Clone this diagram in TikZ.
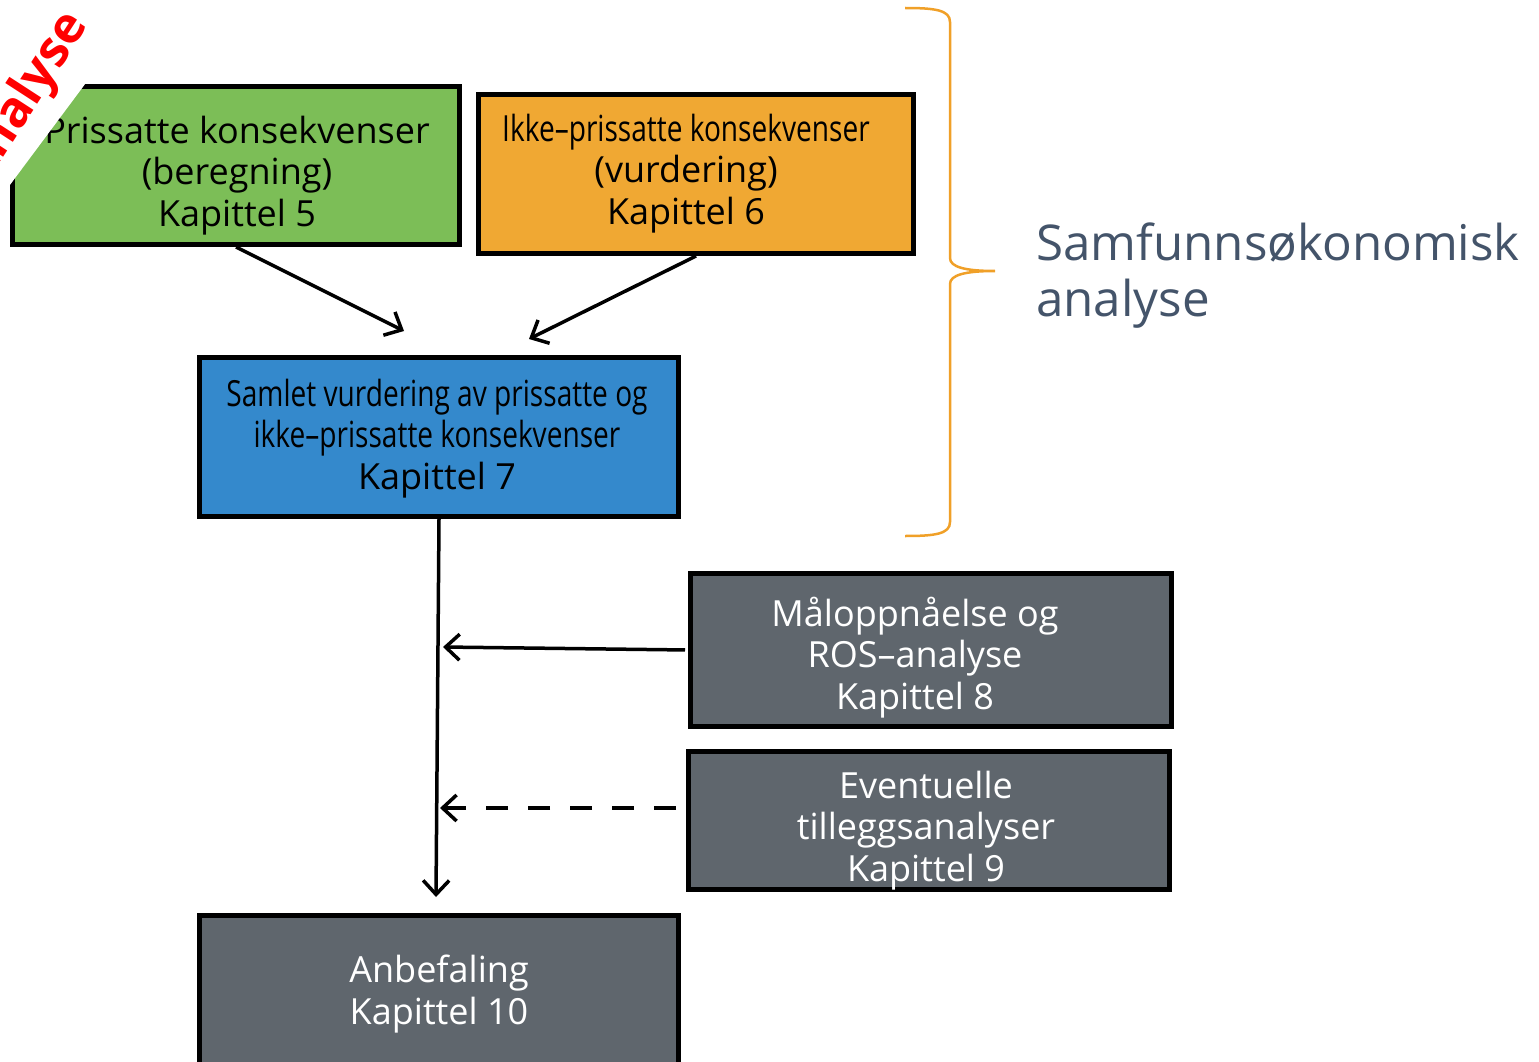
\documentclass[tikz,border=0pt]{standalone}
\usepackage{fontspec}
\setmainfont{Open Sans}
\newfontfamily\narrowfont[FakeStretch=0.78]{Open Sans}
\usetikzlibrary{arrows.meta, positioning}
\definecolor{boxgreen}{RGB}{124,190,87}
\definecolor{boxorange}{RGB}{240,168,51}
\definecolor{boxblue}{RGB}{52,137,204}
\definecolor{boxgray}{RGB}{95,102,109}
\definecolor{bracecol}{RGB}{240,160,40}
\definecolor{labelgray}{RGB}{68,84,106}

\begin{document}
\begin{tikzpicture}[x=1pt, y=-1pt,
  cbox/.style={draw=black, line width=5pt, inner sep=0pt},
  darkbox/.style={cbox, fill=boxgray},
  boxtext/.style={align=center, inner sep=0pt, font=\fontsize{36}{41.5}\selectfont},
  flow/.style={line width=3.5pt, -{Straight Barb[length=14pt, width=26pt, line width=3.5pt]}}
]
  \useasboundingbox (0,0) rectangle (1539,1062);

  \node[cbox, fill=boxgreen, minimum width=447pt, minimum height=158pt] (green) at (236,165.5) {};
  \node[cbox, fill=boxorange, minimum width=435pt, minimum height=159pt] (orange) at (696,174) {};
  \node[cbox, fill=boxblue, minimum width=479pt, minimum height=159pt] (blue) at (439,437) {};
  \node[darkbox, minimum width=481pt, minimum height=153pt] (goal) at (931,650) {};
  \node[darkbox, minimum width=481pt, minimum height=138pt] (extra) at (929,820.5) {};
  \node[darkbox, minimum width=479pt, minimum height=170pt] (advice) at (439,1000.5) {};

  \node[boxtext] (greentext) at (237,175.5) {Prissatte konsekvenser\\(beregning)\\Kapittel 5};
  \node[boxtext] (orangetext) at (686,173.5) {{\narrowfont Ikke–prissatte konsekvenser}\\(vurdering)\\Kapittel 6};
  \node[boxtext] (bluetext) at (437,438.5) {{\narrowfont Samlet vurdering av prissatte og}\\{\narrowfont ikke–prissatte konsekvenser}\\Kapittel 7};
  \node[boxtext, text=white] (goaltext) at (915,657.5) {Måloppnåelse og\\ROS–analyse\\Kapittel 8};
  \node[boxtext, text=white] (extratext) at (926,830.5) {Eventuelle\\tilleggsanalyser\\Kapittel 9};
  \node[boxtext, text=white] (advicetext) at (439,994) {Anbefaling\\Kapittel 10};

  \fill[white] (-5,205) -- (100,64) -- (100,-5) -- (-5,-5) -- cycle;
  \node[rotate=57, anchor=base east, text=red, font=\fontsize{50}{54}\selectfont\bfseries] (title) at (91,22) {Analyse};

  \draw[bracecol, line width=2.5pt] (905,8) .. controls (935,8) and (950,10) .. (950,22)
    -- (950,258) .. controls (950,267) and (965,271) .. (995,271)
    .. controls (965,271) and (950,275) .. (950,284)
    -- (950,522) .. controls (950,534) and (935,536) .. (905,536);
  \node[anchor=north west, align=left, inner sep=0pt, text=labelgray, font=\fontsize{49.3}{56}\selectfont] (scope) at (1036,223)
    {Samfunnsøkonomisk\\analyse};

  \coordinate (in5) at (404,331);
  \coordinate (in6) at (529,339);
  \coordinate (down) at (436,897);
  \coordinate (m8) at (443,647);
  \coordinate (m9) at (440,808);

  \draw[flow] (green.south) -- (in5);
  \draw[flow] (orange.south) -- (in6);
  \draw[flow] (blue.south) -- (down);
  \draw[flow, shorten <=3pt] (goal.west) -- (m8);
  \draw[flow, dash pattern=on 22pt off 20pt, shorten <=10pt] (extra.west |- m9) -- (m9);
\end{tikzpicture}
\end{document}
